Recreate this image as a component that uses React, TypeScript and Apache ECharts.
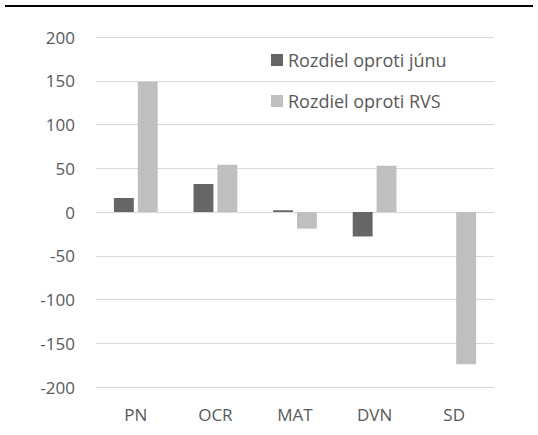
import React, { useEffect, useRef } from "react";
import * as echarts from "echarts";

const categories = ["PN", "OCR", "MAT", "DVN", "SD"];
const seriesNames = ["Rozdiel oproti júnu", "Rozdiel oproti RVS"];
const diffJune = [16, 32, 2, -28, 0];
const diffRVS = [149, 54, -19, 53, -174];
const yTicks = [-200, -150, -100, -50, 0, 50, 100, 150, 200];

export default function App() {
  const ref = useRef<HTMLDivElement>(null);
  useEffect(() => {
    if (!ref.current) return;
    const chart = echarts.init(ref.current, null, { renderer: "svg" });
    const font = "Open Sans";
    chart.setOption({
      animation: false,
      backgroundColor: "#ffffff",
      graphic: [
        { type: "rect", shape: { x: 5, y: 5, width: 528, height: 2 }, style: { fill: "#000000" } },
      ],
      legend: {
        orient: "vertical",
        left: 271,
        top: 51,
        padding: 0,
        itemWidth: 12,
        itemHeight: 12,
        itemGap: 23,
        icon: "rect",
        data: seriesNames,
        textStyle: { color: "#595959", fontSize: 18, fontFamily: font },
      },
      grid: { left: 96, right: 44, top: 37, bottom: 48, containLabel: false, outerBoundsMode: "none" },
      xAxis: {
        type: "category",
        data: categories,
        axisLine: { show: false },
        axisTick: { show: false },
        axisLabel: { color: "#595959", fontSize: 17, fontFamily: font, margin: 19 },
      },
      yAxis: {
        type: "value",
        min: yTicks[0],
        max: yTicks[yTicks.length - 1],
        interval: 50,
        axisLine: { show: false },
        axisTick: { show: false },
        splitLine: { lineStyle: { color: "#d9d9d9", width: 1 } },
        axisLabel: { color: "#595959", fontSize: 17, fontFamily: font, margin: 21 },
      },
      series: [
        {
          name: seriesNames[0],
          type: "bar",
          data: diffJune,
          barWidth: "25%",
          barGap: "20%",
          itemStyle: { color: "#666666" },
        },
        {
          name: seriesNames[1],
          type: "bar",
          data: diffRVS,
          barWidth: "25%",
          itemStyle: { color: "#bfbfbf" },
        },
      ],
    });
    return () => chart.dispose();
  }, []);
  return <div ref={ref} style={{ width: 538, height: 435, position: "absolute", left: 0, top: 0 }} />;
}
